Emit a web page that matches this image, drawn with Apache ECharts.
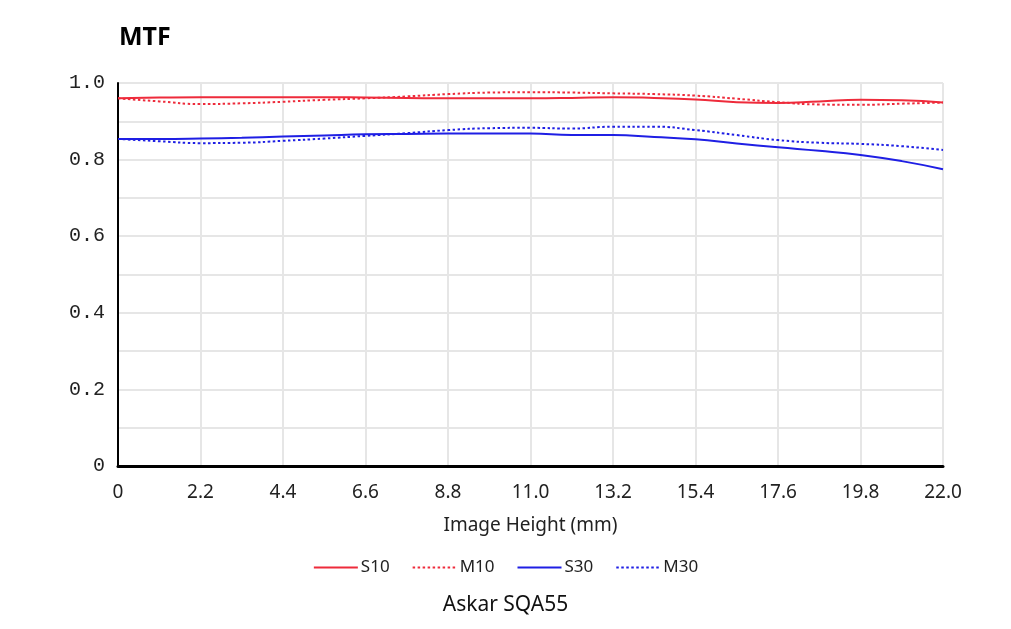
<!DOCTYPE html>
<html>
<head>
<meta charset="utf-8">
<script src="https://cdn.jsdelivr.net/npm/echarts@6/dist/echarts.min.js"></script>
<style>
  html, body { margin: 0; padding: 0; background: #fff; }
  #chart { width: 1011px; height: 629px; }
</style>
</head>
<body>
<div id="chart"></div>
<script>
// image height in mm
var heights = [0, 1.1, 2.2, 3.3, 4.4, 5.5, 6.6, 7.7, 8.8, 9.9, 11.0, 12.1, 13.2, 14.3, 15.4, 16.5, 17.6, 18.7, 19.8, 20.9, 22.0];
var s10 = [0.960, 0.962, 0.963, 0.963, 0.963, 0.963, 0.962, 0.961, 0.960, 0.960, 0.960, 0.961, 0.963, 0.961, 0.957, 0.950, 0.948, 0.952, 0.956, 0.955, 0.949];
var m10 = [0.960, 0.952, 0.945, 0.947, 0.951, 0.956, 0.960, 0.965, 0.971, 0.975, 0.976, 0.975, 0.973, 0.971, 0.967, 0.959, 0.950, 0.944, 0.943, 0.946, 0.949];
var s30 = [0.854, 0.854, 0.855, 0.857, 0.860, 0.863, 0.866, 0.867, 0.868, 0.868, 0.868, 0.864, 0.864, 0.859, 0.853, 0.842, 0.832, 0.823, 0.812, 0.796, 0.775];
var m30 = [0.854, 0.848, 0.843, 0.844, 0.849, 0.855, 0.862, 0.869, 0.877, 0.882, 0.883, 0.881, 0.886, 0.886, 0.877, 0.864, 0.851, 0.844, 0.841, 0.835, 0.825];

var RED = '#ee2b3b';
var BLUE = '#1f1fe4';

function pairs(ys) {
  return heights.map(function (h, i) { return [h, ys[i]]; });
}

function line(name, ys, color, dotted) {
  return {
    name: name,
    type: 'line',
    data: pairs(ys),
    smooth: true,
    showSymbol: false,
    symbol: 'none',
    itemStyle: { color: color },
    lineStyle: { color: color, width: 2, type: dotted ? [2.5, 2.5] : 'solid' }
  };
}

var chart = echarts.init(document.getElementById('chart'));
chart.setOption({
  animation: false,
  title: [{
    text: 'MTF',
    left: 114, top: 20,
    textStyle: { fontFamily: 'Noto Sans', fontSize: 25, fontWeight: 'bold', color: '#000' }
  }, {
    text: 'Askar SQA55',
    left: 'center', top: 590,
    textStyle: { fontFamily: 'Noto Sans', fontSize: 21, fontWeight: 'normal', color: '#111' }
  }],
  legend: {
    top: 554, left: 'center',
    itemWidth: 44, itemHeight: 10, itemGap: 22,
    itemStyle: { opacity: 0 },
    textStyle: { fontFamily: 'Noto Sans', fontSize: 17, color: '#222', padding: [0, 0, 0, -2] },
    data: ['S10', 'M10', 'S30', 'M30']
  },
  grid: { left: 118, right: 68, top: 83, bottom: 163, containLabel: false },
  xAxis: {
    type: 'value',
    min: 0, max: 22, interval: 2.2,
    name: 'Image Height (mm)',
    nameLocation: 'middle', nameGap: 50,
    nameTextStyle: { fontFamily: 'Noto Sans', fontSize: 19, color: '#222' },
    axisLine: { lineStyle: { color: '#000', width: 3 } },
    axisTick: { show: false },
    axisLabel: {
      margin: 17,
      fontFamily: 'Noto Sans', fontSize: 19, color: '#222',
      formatter: function (v) { return v === 0 ? '0' : v.toFixed(1); }
    },
    splitLine: { show: true, lineStyle: { color: '#e6e6e6', width: 2 } }
  },
  yAxis: {
    type: 'value',
    min: 0, max: 1, interval: 0.1,
    axisLine: { show: true, lineStyle: { color: '#000', width: 2 } },
    axisTick: { show: false },
    axisLabel: {
      margin: 13,
      fontFamily: 'Liberation Mono', fontSize: 20, color: '#222',
      formatter: function (v) {
        var k = Math.round(v * 10);
        if (k % 2 !== 0) return '';
        return k === 0 ? '0' : (k / 10).toFixed(1);
      }
    },
    splitLine: { show: true, lineStyle: { color: '#e6e6e6', width: 2 } }
  },
  series: [
    line('S10', s10, RED, false),
    line('M10', m10, RED, true),
    line('S30', s30, BLUE, false),
    line('M30', m30, BLUE, true)
  ]
});
</script>
</body>
</html>
